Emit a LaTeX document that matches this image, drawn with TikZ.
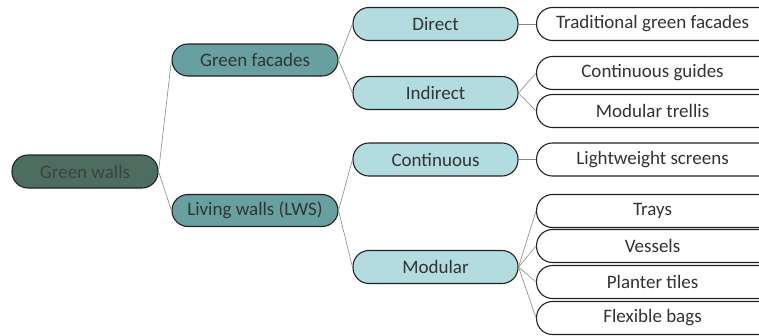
\documentclass[tikz,border=0pt]{standalone}
\usepackage{fontspec}
\setmainfont{Carlito}
\usetikzlibrary{positioning}
\definecolor{rootfill}{HTML}{4E6D61}
\definecolor{midfill}{HTML}{68A0A2}
\definecolor{subfill}{HTML}{B2DCE0}
\definecolor{edgecol}{HTML}{222222}
\definecolor{linkcol}{HTML}{8A8A8A}
\tikzset{
  pill/.style={draw=edgecol, line width=1.1pt, rounded corners=16pt,
    inner sep=0pt, font=\fontsize{19}{22}\selectfont, text=black!80},
  rootbox/.style={pill, fill=rootfill, minimum width=146pt, minimum height=33pt, text=black!75},
  midbox/.style={pill, fill=midfill, minimum width=166pt, minimum height=32pt},
  subbox/.style={pill, fill=subfill, minimum width=165pt, minimum height=33pt},
  leafbox/.style={pill, fill=white, minimum width=240pt, minimum height=33pt},
  link/.style={draw=linkcol, line width=0.6pt},
}
\begin{document}
\begin{tikzpicture}[x=1pt,y=-1pt]
\useasboundingbox (0,0) rectangle (759,335);
\clip (0,0) rectangle (759,335);
\fill[white] (0,0) rectangle (759,335);

% root and second level
\node[rootbox] (gw) at (85,171.5) {Green walls};
\node[midbox] (gf) at (255,60) {Green facades};
\node[midbox] (lw) at (255,210.5) {Living walls (LWS)};

% third level
\node[subbox] (dir) at (435.5,24) {Direct};
\node[subbox] (ind) at (435.5,93) {Indirect};
\node[subbox] (con) at (435.5,159.5) {Continuous};
\node[subbox] (mod) at (435.5,267) {Modular};

% leaves (their right ends run past the page edge)
\node[leafbox, anchor=west] (tgf) at (536,24) {\hspace*{-8pt}Traditional green facades};
\node[leafbox, anchor=west] (cg)  at (536,73) {\hspace*{-8pt}Continuous guides};
\node[leafbox, anchor=west] (mt)  at (536,111) {\hspace*{-8pt}Modular trellis};
\node[leafbox, anchor=west] (lsc) at (536,159.5) {\hspace*{-8pt}Lightweight screens};
\node[leafbox, anchor=west] (tr)  at (536,211) {\hspace*{-8pt}Trays};
\node[leafbox, anchor=west] (ve)  at (536,246) {\hspace*{-8pt}Vessels};
\node[leafbox, anchor=west] (pt)  at (536,282) {\hspace*{-8pt}Planter tiles};
\node[leafbox, anchor=west] (fb)  at (536,318) {\hspace*{-8pt}Flexible bags};

% connectors
\draw[link] (gw.east) -- (gf.west);
\draw[link] (gw.east) -- (lw.west);
\draw[link] (gf.east) -- (dir.west);
\draw[link] (gf.east) -- (ind.west);
\draw[link] (lw.east) -- (con.west);
\draw[link] (lw.east) -- (mod.west);
\draw[link] (dir.east) -- (tgf.west);
\draw[link] (ind.east) -- (cg.west);
\draw[link] (ind.east) -- (mt.west);
\draw[link] (con.east) -- (lsc.west);
\draw[link] (mod.east) -- (tr.west);
\draw[link] (mod.east) -- (ve.west);
\draw[link] (mod.east) -- (pt.west);
\draw[link] (mod.east) -- (fb.west);
\end{tikzpicture}
\end{document}
